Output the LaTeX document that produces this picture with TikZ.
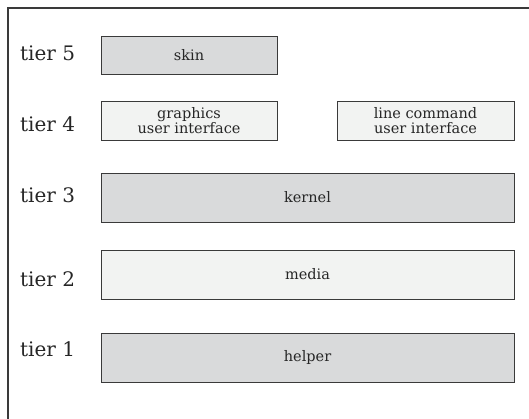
\documentclass[tikz,border=0pt]{standalone}
\usepackage{fontspec}
\setmainfont{DejaVu Serif}
\definecolor{darkbox}{HTML}{D9DADB}
\definecolor{lightbox}{HTML}{F2F3F2}
\definecolor{rim}{HTML}{3A3A3A}
\begin{document}
\begin{tikzpicture}[x=1pt,y=-1pt,
  tierlabel/.style={anchor=base west,inner sep=0pt,font=\fontsize{20}{22}\selectfont,text=black!85},
  layer/.style={draw=rim,line width=0.8pt,inner sep=0pt,align=center,
    font=\fontsize{14.5}{15.5}\selectfont,text=black!85},
  dark/.style={layer,fill=darkbox},
  light/.style={layer,fill=lightbox}]
\useasboundingbox (0,0) rectangle (529,419);
\draw[rim,line width=1.2pt] (8,419)--(8,8)--(529,8);
% labels on the left
\node[tierlabel] (t5) at (20,61) {tier 5};
\node[tierlabel] (t4) at (20,132) {tier 4};
\node[tierlabel] (t3) at (20,203) {tier 3};
\node[tierlabel] (t2) at (20,286) {tier 2};
\node[tierlabel] (t1) at (20,356) {tier 1};
% the layers
\node[dark,minimum width=176pt,minimum height=38pt] (skin) at (189,55) {skin};
\node[light,minimum width=176pt,minimum height=39pt] (gui) at (189,120.5) {graphics\\user interface};
\node[light,minimum width=177pt,minimum height=39pt] (cli) at (425.5,120.5) {line command\\user interface};
\node[dark,minimum width=413pt,minimum height=49pt] (kernel) at (307.5,197.5) {kernel};
\node[light,minimum width=413pt,minimum height=49pt] (media) at (307.5,274.5) {media};
\node[dark,minimum width=413pt,minimum height=49pt] (helper) at (307.5,357.5) {helper};
\end{tikzpicture}
\end{document}
